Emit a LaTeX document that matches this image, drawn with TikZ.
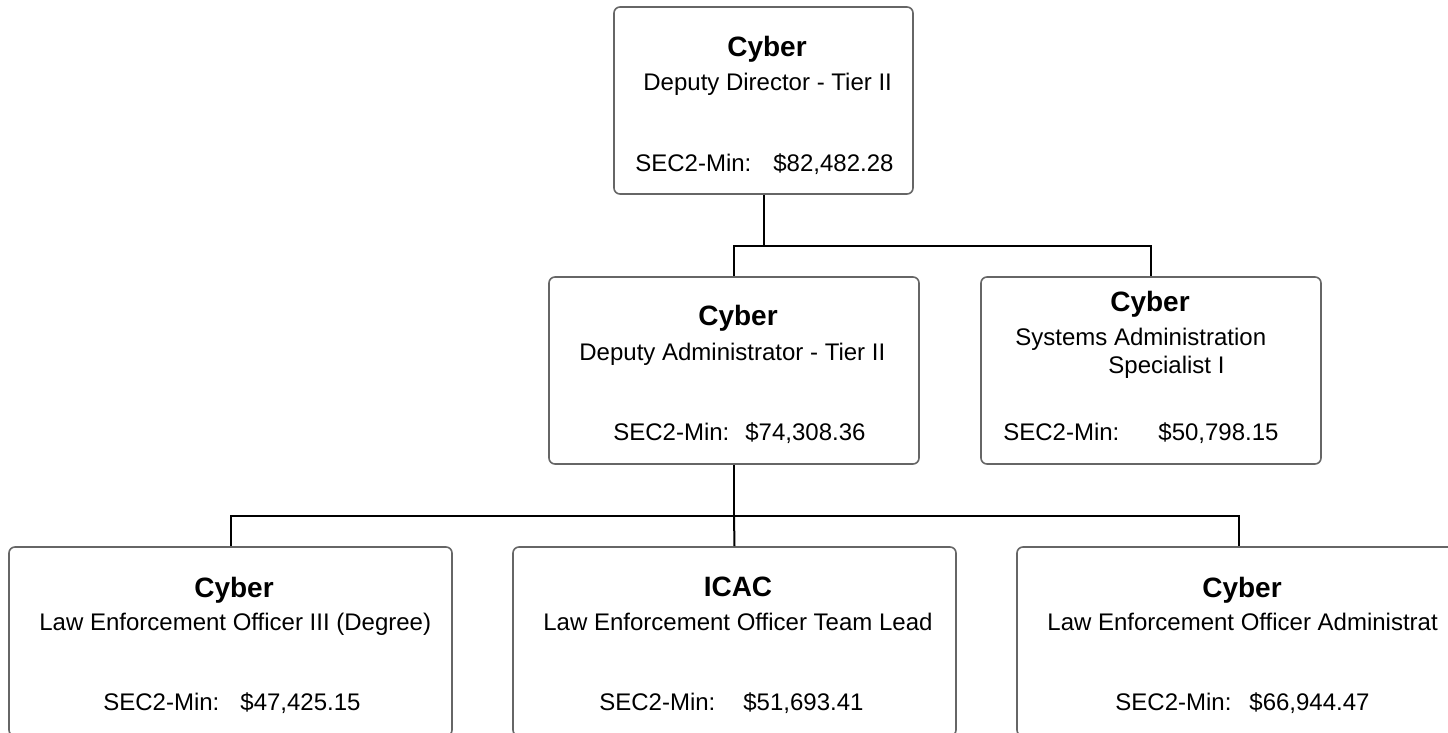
\documentclass[tikz,border=0pt]{standalone}
\usepackage{fontspec}
\setmainfont{Liberation Sans}
\begin{document}
\begin{tikzpicture}[x=0.5pt,y=-0.5pt,
  box/.style={draw=black!60, line width=0.8pt, rounded corners=3pt, rectangle, inner sep=0pt, fill=white},
  ttl/.style={font=\fontsize{14}{16}\selectfont\bfseries, inner sep=0pt, anchor=base},
  txt/.style={font=\fontsize{12}{14}\selectfont, inner sep=0pt, anchor=base west},
  conn/.style={draw=black, line width=1pt}]
\useasboundingbox (0,0) rectangle (1448,733);
% boxes
\node[box, minimum width=149.5pt, minimum height=93.5pt] (top) at (763.5,100.5) {};
\node[box, minimum width=185pt, minimum height=93.5pt] (mid) at (734,370.5) {};
\node[box, minimum width=170pt, minimum height=93.5pt] (rmid) at (1151,370.5) {};
\node[box, minimum width=221.5pt, minimum height=94.5pt] (bl) at (230.5,641.5) {};
\node[box, minimum width=221.5pt, minimum height=94.5pt] (bm) at (734.5,641.5) {};
\node[box, minimum width=221.5pt, minimum height=94.5pt] (br) at (1238.5,641.5) {};
% connectors
\coordinate (j1) at (763.5,246);
\coordinate (j2) at (734,516);
\draw[conn] (top.south) -- (j1);
\draw[conn] (mid.north) |- (j1) -| (rmid.north);
\draw[conn] (mid.south) -- (j2);
\draw[conn] (j2) -- (bm.north);
\draw[conn] (bl.north) |- (j2) -| (br.north);
% top texts
\node[ttl] (t1) at (767,57) {Cyber};
\node[txt] (t2) at (643,91) {Deputy Director - Tier II};
\node[txt] (t3) at (635,172) {SEC2-Min:\hspace{11pt}\$82,482.28};
% mid texts
\node[ttl] (m1) at (738,325) {Cyber};
\node[txt] (m2) at (579,360) {Deputy Administrator - Tier II};
\node[txt] (m3) at (613,440) {SEC2-Min:\hspace{8pt}\$74,308.36};
% right mid texts
\node[ttl] (r1) at (1150,312) {Cyber};
\node[txt] (r2) at (1015,345) {Systems Administration};
\node[txt] (r2b) at (1108,373) {Specialist I};
\node[txt] (r3) at (1003,440) {SEC2-Min:\hspace{19.5pt}\$50,798.15};
% bottom left
\node[ttl] (bl1) at (234,597) {Cyber};
\node[txt] (bl2) at (39,630) {Law Enforcement Officer III (Degree)};
\node[txt] (bl3) at (103,710) {SEC2-Min:\hspace{10.5pt}\$47,425.15};
% bottom middle
\node[ttl] (bm1) at (738,596) {ICAC};
\node[txt] (bm2) at (543,630) {Law Enforcement Officer Team Lead};
\node[txt] (bm3) at (599,710) {SEC2-Min:\hspace{14pt}\$51,693.41};
% bottom right
\node[ttl] (br1) at (1242,597) {Cyber};
\node[txt] (br2) at (1047,630) {Law Enforcement Officer Administrat};
\node[txt] (br3) at (1115,710) {SEC2-Min:\hspace{9pt}\$66,944.47};
\end{tikzpicture}
\end{document}
